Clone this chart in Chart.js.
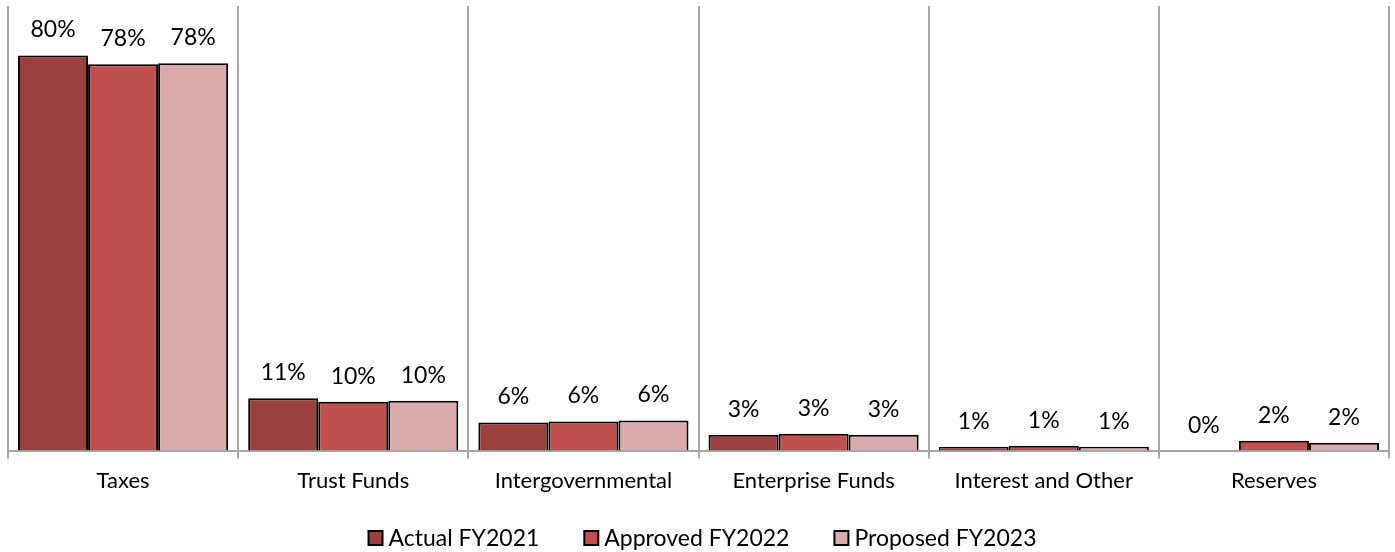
<!DOCTYPE html>
<html>
<head>
<meta charset="utf-8">
<script src="https://cdn.jsdelivr.net/npm/chart.js@4"></script>
<style>
  html, body { margin: 0; padding: 0; background: #fff; }
  #wrap { width: 1395px; height: 552px; }
</style>
</head>
<body>
<div id="wrap"><canvas id="myChart" width="1395" height="552"></canvas></div>
<script>
const categories = ['Taxes', 'Trust Funds', 'Intergovernmental', 'Enterprise Funds', 'Interest and Other', 'Reserves'];
const actualFY2021 = [80.0, 10.6, 5.7, 3.2, 0.8, 0];
const approvedFY2022 = [78.2, 9.9, 5.9, 3.4, 1.0, 2.0];
const proposedFY2023 = [78.4, 10.1, 6.1, 3.2, 0.8, 1.6];

const FONT = 'Lato, "Liberation Sans", sans-serif';

// % labels above each bar
const barLabels = {
    id: 'barLabels',
    afterDatasetsDraw(chart) {
        const ctx = chart.ctx;
        ctx.save();
        ctx.font = '23px ' + FONT;
        ctx.fillStyle = '#000';
        ctx.textAlign = 'center';
        ctx.textBaseline = 'alphabetic';
        chart.data.datasets.forEach((ds, i) => {
            chart.getDatasetMeta(i).data.forEach((bar, j) => {
                ctx.fillText(Math.round(ds.data[j]) + '%', bar.x, bar.y - 18);
            });
        });
        ctx.restore();
    }
};

// legend drawn by hand so the spacing matches
const bottomLegend = {
    id: 'bottomLegend',
    afterDraw(chart) {
        const ctx = chart.ctx;
        const box = 14, gap = 6, itemGap = 45, yc = 538;
        ctx.save();
        ctx.font = '23px ' + FONT;
        ctx.textBaseline = 'middle';
        const items = chart.data.datasets.map(ds => ({
            text: ds.label, color: ds.backgroundColor, w: ctx.measureText(ds.label).width
        }));
        let total = 0;
        items.forEach((it, i) => { total += box + gap + it.w + (i ? itemGap : 0); });
        let x = (chart.chartArea.left + chart.chartArea.right) / 2 + 4 - total / 2;
        items.forEach(it => {
            ctx.fillStyle = it.color;
            ctx.fillRect(x, yc - box / 2, box, box);
            ctx.strokeStyle = '#000';
            ctx.lineWidth = 2;
            ctx.strokeRect(x, yc - box / 2, box, box);
            ctx.fillStyle = '#000';
            ctx.textAlign = 'left';
            ctx.fillText(it.text, x + box + gap, yc + 1);
            x += box + gap + it.w + itemGap;
        });
        ctx.restore();
    }
};

const ctx = document.getElementById('myChart').getContext('2d');
const myChart = new Chart(ctx, {
    type: 'bar',
    data: {
        labels: categories,
        datasets: [{
            label: 'Actual FY2021',
            data: actualFY2021,
            backgroundColor: '#9c403e',
            borderColor: '#000',
            borderWidth: 2
        }, {
            label: 'Approved FY2022',
            data: approvedFY2022,
            backgroundColor: '#c0504d',
            borderColor: '#000',
            borderWidth: 2
        }, {
            label: 'Proposed FY2023',
            data: proposedFY2023,
            backgroundColor: '#daabab',
            borderColor: '#000',
            borderWidth: 2
        }]
    },
    options: {
        responsive: false,
        animation: false,
        layout: { padding: { left: 8, right: 6, top: 6, bottom: 49 } },
        datasets: {
            bar: { categoryPercentage: 0.913, barPercentage: 1.0 }
        },
        scales: {
            x: {
                grid: {
                    offset: true,
                    color: '#a6a6a6',
                    lineWidth: 2,
                    tickLength: 8
                },
                border: { color: '#a6a6a6', width: 2 },
                ticks: {
                    color: '#000',
                    font: { family: FONT, size: 22 },
                    padding: 9
                }
            },
            y: {
                display: false,
                min: 0,
                max: 90
            }
        },
        plugins: {
            legend: { display: false },
            tooltip: { enabled: false }
        }
    },
    plugins: [barLabels, bottomLegend]
});
</script>
</body>
</html>
